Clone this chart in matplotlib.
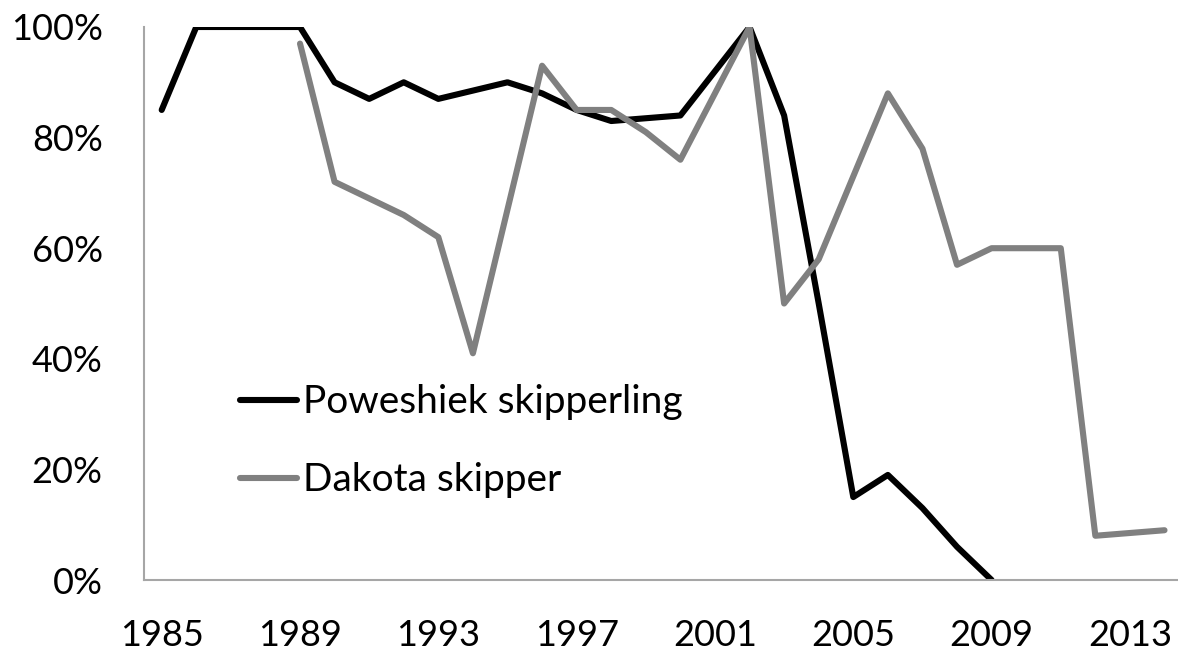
import numpy as np
import matplotlib
matplotlib.use("Agg")
import matplotlib.pyplot as plt
from matplotlib.ticker import PercentFormatter

years = list(range(1985, 2015))
poweshiek = [85, 100, 100, 100, 100, 90, 87, 90, 87, 88.5, 90, 88, 85, 83, 83.5, 84,
             92, 100, 84, 50, 15, 19, 13, 6, 0,
             np.nan, np.nan, np.nan, np.nan, np.nan]
dakota = [np.nan, np.nan, np.nan, np.nan, 97, 72, 69, 66, 62, 41, 67, 93, 85, 85, 81, 76,
          88, 100, 50, 58, 73, 88, 78, 57, 60, 60, 60, 8, 8.5, 9]
series_names = ["Poweshiek skipperling", "Dakota skipper"]
xtick_years = [1985, 1989, 1993, 1997, 2001, 2005, 2009, 2013]
ytick_vals = [0, 20, 40, 60, 80, 100]

plt.rcParams['font.family'] = ['Lato', 'DejaVu Sans']
W, H = 1178, 654
fig = plt.figure(figsize=(W / 100, H / 100), dpi=100)
ax = fig.add_axes([144.4 / W, (H - 580) / H, 1037.4 / W, 553 / H])

ax.plot(years, poweshiek, color='black', lw=4.4, solid_capstyle='round',
        solid_joinstyle='round', label=series_names[0])
ax.plot(years, dakota, color='#808080', lw=4.4, solid_capstyle='round',
        solid_joinstyle='round', label=series_names[1])

ax.set_xlim(1984.5, 2014.5)
ax.set_ylim(0, 100)
ax.set_xticks(xtick_years)
ax.set_yticks(ytick_vals)
ax.yaxis.set_major_formatter(PercentFormatter(100, decimals=0))
ax.tick_params(axis='both', length=0, labelsize=26)
ax.tick_params(axis='y', pad=30)
ax.tick_params(axis='x', pad=28)
for s in ['top', 'right']:
    ax.spines[s].set_visible(False)
for s in ['left', 'bottom']:
    ax.spines[s].set_color('#a6a6a6')
    ax.spines[s].set_linewidth(1.5)

ax.legend(loc='upper left', bbox_to_anchor=(0.092, 0.354), frameon=False,
          fontsize=28, handlelength=1.47, handletextpad=0.15, labelspacing=1.08,
          borderpad=0, borderaxespad=0)

fig.savefig('out.png', dpi=100)
